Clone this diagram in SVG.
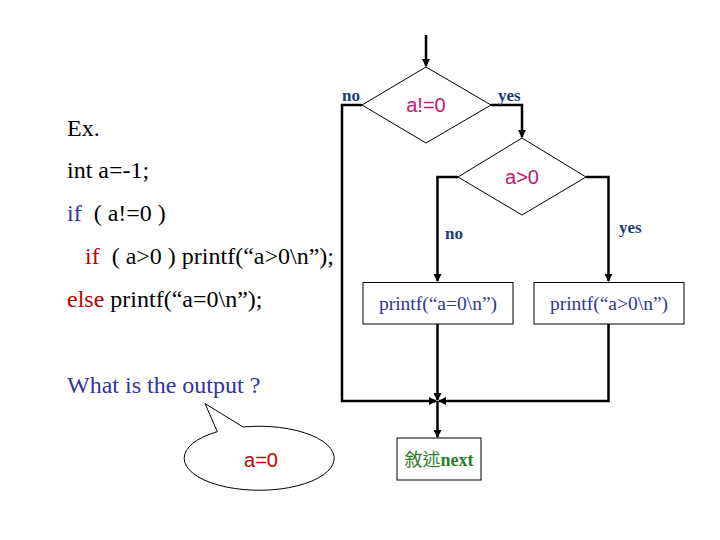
<svg xmlns="http://www.w3.org/2000/svg" width="720" height="540" viewBox="0 0 720 540">
<defs>
<marker id="ah" markerWidth="8" markerHeight="8" refX="7" refY="4" orient="auto" markerUnits="userSpaceOnUse">
<path d="M0,0 L8,4 L0,8 Z" fill="#000"/>
</marker>
<style>
.code{font-family:"Liberation Serif","Times New Roman",serif;font-size:24px;fill:#000;white-space:pre}
.nav{fill:#333399}
.red{fill:#c00000}
.conn{fill:none;stroke:#000;stroke-width:2.5}
.shape{fill:#fff;stroke:#000;stroke-width:1}
.cond{font-family:"Liberation Sans",Arial,sans-serif;font-size:20px;fill:#c0186e;text-anchor:middle}
.lbl{font-family:"Liberation Serif","Times New Roman",serif;font-weight:bold;font-size:17px;fill:#1f3a7a}
.pf{font-family:"Liberation Serif","Times New Roman",serif;font-size:19.5px;fill:#333399;text-anchor:middle}
</style>
</defs>
<rect width="720" height="540" fill="#fff"/>

<g id="code">
<text class="code" x="67" y="136">Ex.</text>
<text class="code" x="67" y="178">int a=-1;</text>
<text class="code" x="67" y="221"><tspan class="nav">if</tspan>  ( a!=0 )</text>
<text class="code" x="85" y="264"><tspan class="red">if</tspan>  ( a&gt;0 ) printf(“a&gt;0\n”);</text>
<text class="code" x="67" y="307"><tspan class="red">else</tspan> printf(“a=0\n”);</text>
<text class="code nav" x="67" y="393">What is the output ?</text>
</g>

<g id="callout">
<path class="shape" d="M243,427 L205,403.5 L217.3,431.7 A75 32 0 1 0 243,427 Z"/>
<text x="261" y="467" font-family="Liberation Sans, Arial, sans-serif" font-size="20" fill="#cc0000" text-anchor="middle">a=0</text>
</g>

<g id="connectors">
<line class="conn" x1="426" y1="35" x2="426" y2="66" marker-end="url(#ah)"/>
<polyline class="conn" points="362,105 342,105 342,401 436,401" marker-end="url(#ah)"/>
<polyline class="conn" points="491,105 522,105 522,137" marker-end="url(#ah)"/>
<polyline class="conn" points="458,177 437.5,177 437.5,281" marker-end="url(#ah)"/>
<polyline class="conn" points="586,177 608.5,177 608.5,281" marker-end="url(#ah)"/>
<line class="conn" x1="437.5" y1="324" x2="437.5" y2="400" marker-end="url(#ah)"/>
<polyline class="conn" points="608.5,324 608.5,401 439,401" marker-end="url(#ah)"/>
<line class="conn" x1="437.5" y1="401" x2="437.5" y2="437" marker-end="url(#ah)"/>
</g>

<g id="cond1">
<polygon class="shape" points="426,67 491,105 426,143 362,105"/>
<text class="cond" x="426" y="112">a!=0</text>
</g>
<text class="lbl" x="342" y="101">no</text>
<text class="lbl" x="498" y="101">yes</text>

<g id="cond2">
<polygon class="shape" points="522,138 586,177 522,215 458,177"/>
<text class="cond" x="522" y="184">a&gt;0</text>
</g>
<text class="lbl" x="445" y="239">no</text>
<text class="lbl" x="619" y="233">yes</text>

<g id="box-a0">
<rect class="shape" x="363" y="282.5" width="150" height="41.5"/>
<text class="pf" x="438" y="310">printf(“a=0\n”)</text>
</g>
<g id="box-agt0">
<rect class="shape" x="534" y="282.5" width="150" height="41.5"/>
<text class="pf" x="609" y="310">printf(“a&gt;0\n”)</text>
</g>

<g id="next">
<rect class="shape" x="397" y="438" width="84" height="42"/>
<text x="439" y="466" font-family="Liberation Serif, 'Noto Sans CJK TC', serif" font-size="18" fill="#2e7d2e" text-anchor="middle">敘述<tspan font-weight="bold">next</tspan></text>
</g>
</svg>
